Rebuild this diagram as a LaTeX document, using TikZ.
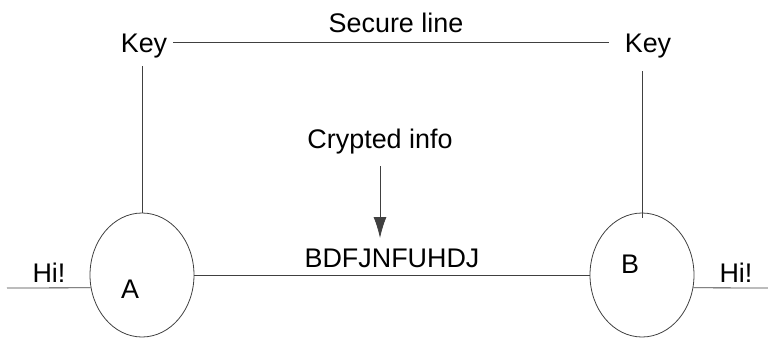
\documentclass[tikz,border=0pt]{standalone}
\usepackage{fontspec}
\setmainfont{Liberation Sans}
\usetikzlibrary{arrows.meta, shapes.geometric}

\begin{document}
\begin{tikzpicture}[
    x=1bp, y=-1bp,
    font=\fontsize{27}{32}\selectfont,
    party/.style={
        ellipse,
        draw=black!75,
        line width=0.8bp,
        minimum width=104bp,
        minimum height=124bp,
        inner sep=0pt
    },
    tag/.style={
        inner sep=6bp,
        text height=20bp,
        text depth=0bp
    },
    wire/.style={
        line width=0.8bp,
        draw=black!75
    },
    arrow/.style={
        wire,
        -{Latex[length=21bp, width=13bp]}
    }
]
\useasboundingbox (0,0) rectangle (768,338);

% the two parties
\node[party] (a) at (142,275) {};
\node[party] (b) at (642,275) {};
\node[anchor=base] (lblA) at (130,298) {A};
\node[anchor=base] (lblB) at (630,273) {B};

% keys and the secure line between them
\node[tag, anchor=base] (keyA) at (144,52) {Key};
\node[tag, anchor=base] (keyB) at (648,52) {Key};
\draw[wire, shorten >=10bp] (keyA.east) -- node[above, inner sep=9bp] (secure) {Secure line} (keyB.west);
\draw[wire, shorten <=8bp] (a.north |- keyA.south) -- (a.north);
\draw[wire, shorten <=13bp, shorten >=-5bp] (b.north |- keyB.south) -- (b.north);

% open channel with the crypted message
\draw[wire] (a.east) -- node[above, inner sep=7bp] (cipher) {BDFJNFUHDJ} (b.west);
\node[anchor=base] (crypt) at (380,148) {Crypted info};
\draw[arrow, shorten <=9bp] (crypt.south) -- (crypt.south |- 0,238);

% plain text in and out
\coordinate (inA) at (7,288);
\coordinate (outB) at (768,288);
\draw[wire] (inA) -- (a.194);
\draw[wire] (b.-14) -- (outB);
\node[anchor=base] (hiA) at (49,282) {Hi!};
\node[anchor=base] (hiB) at (736,282) {Hi!};
\end{tikzpicture}
\end{document}
